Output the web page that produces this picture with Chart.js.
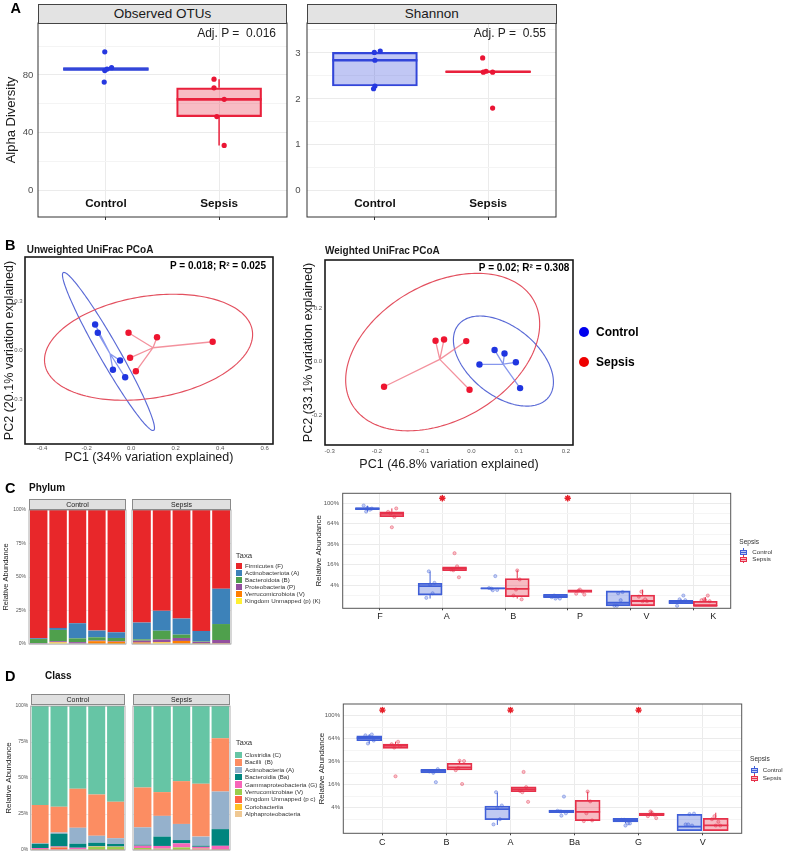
<!DOCTYPE html>
<html>
<head>
<meta charset="utf-8">
<title>Alpha diversity, PCoA and taxonomic composition</title>
<script src="https://cdn.jsdelivr.net/npm/chart.js@4.4.1/dist/chart.umd.min.js"></script>
<style>
  html, body { margin: 0; padding: 0; background: #fff; }
  #wrap { position: relative; width: 787px; height: 853px; overflow: hidden; font-family: "Liberation Sans", Arial, Helvetica, sans-serif; color: #1a1a1a; }
  #wrap canvas { position: absolute; left: 0; top: 0; }
  .t { position: absolute; white-space: pre; line-height: 1; }
  .strip { position: absolute; box-sizing: border-box; display: flex; align-items: center; justify-content: center; white-space: nowrap; line-height: 1; }
  .k { position: absolute; box-sizing: border-box; }
</style>
</head>
<body>
<div id="wrap"></div>
<script>
// ===================== DATA =====================
const groups = ['Control', 'Sepsis'];

// --- A: alpha diversity (per-sample values and box summaries [low, q1, median, q3, high]) ---
const otuControl = [96, 85, 83, 75, 84];
const otuSepsis = [77, 71, 63, 51, 31];
const otuBoxControl = [83, 83, 84, 85, 85];
const otuBoxSepsis = [31, 51, 63, 71, 77];
const otuTicks = [0, 40, 80];
const otuMinor = [20, 60, 100];
const shannonControl = [3.01, 3.04, 2.84, 2.28, 2.22];
const shannonSepsis = [2.89, 2.60, 2.58, 2.58, 1.80];
const shannonBoxControl = [2.22, 2.28, 2.84, 3.01, 3.04];
const shannonBoxSepsis = [2.575, 2.575, 2.59, 2.605, 2.605];
const shannonTicks = [0, 1, 2, 3];
const shannonMinor = [0.5, 1.5, 2.5, 3.5];
const otuJitterControl = [-0.01, 0.05, -0.01, -0.015, 0.01];
const otuJitterSepsis = [-0.045, -0.045, 0.045, -0.02, 0.045];
const shannonJitterControl = [-0.005, 0.047, 0, 0, -0.012];
const shannonJitterSepsis = [-0.048, -0.018, -0.042, 0.04, 0.04];

// --- B: PCoA coordinates ---
const unwControlPC1 = [-0.162, -0.150, -0.050, -0.082, -0.027];
const unwControlPC2 = [0.160, 0.109, -0.062, -0.119, -0.165];
const unwSepsisPC1 = [-0.012, 0.116, 0.366, -0.005, 0.021];
const unwSepsisPC2 = [0.109, 0.082, 0.054, -0.045, -0.128];
const unwCentroidControl = [-0.095, -0.020];
const unwCentroidSepsis = [0.098, 0.017];
// ellipse: centre x, centre y, semi-axis A (x, y), semi-axis B (x, y)
const unwEllipseControl = [-0.102, -0.006, 0.203, -0.486, 0.039, 0.031];
const unwEllipseSepsis = [0.078, 0.020, 0.466, 0.103, 0.036, -0.310];
const unwTicksX = [-0.4, -0.2, 0, 0.2, 0.4, 0.6];
const unwTicksY = [-0.3, 0, 0.3];

const wControlPC1 = [0.049, 0.070, 0.094, 0.017, 0.103];
const wControlPC2 = [0.044, 0.031, -0.002, -0.010, -0.098];
const wSepsisPC1 = [-0.076, -0.058, -0.011, -0.185, -0.004];
const wSepsisPC2 = [0.078, 0.083, 0.077, -0.093, -0.104];
const wCentroidControl = [0.067, -0.009];
const wCentroidSepsis = [-0.067, 0.009];
const wEllipseControl = [0.0677, 0.0026, 0.0956, -0.1345, -0.0455, -0.1002];
const wEllipseSepsis = [-0.0609, 0.0361, 0.1926, 0.1929, 0.0712, -0.2209];
const wTicksX = [-0.3, -0.2, -0.1, 0, 0.1, 0.2];
const wTicksY = [-0.2, 0, 0.2];

// --- C: phylum relative abundance (%), rows = taxa (legend order), columns = samples ---
const samplesControl = ['C1', 'C2', 'C3', 'C4', 'C5'];
const samplesSepsis = ['S1', 'S2', 'S3', 'S4', 'S5'];
const phylumTaxa = ['Firmicutes (F)', 'Actinobacteriota (A)', 'Bacteroidota (B)', 'Proteobacteria (P)', 'Verrucomicrobiota (V)', 'Kingdom Unmapped (p) (K)'];
const phylumCodes = ['F', 'A', 'B', 'P', 'V', 'K'];
const phylumControl = [
  [95.7, 88.0, 84.5, 90.0, 91.25],
  [0.6, 1.5, 11.3, 5.0, 4.25],
  [3.0, 8.4, 2.8, 2.4, 2.3],
  [0.7, 0.8, 1.0, 0.5, 0.5],
  [0, 0.3, 0, 1.8, 1.5],
  [0, 1.0, 0.4, 0.3, 0.2]
];
const phylumSepsis = [
  [84.0, 75.25, 81.0, 90.25, 58.75],
  [12.5, 14.85, 12.0, 7.75, 26.35],
  [1.0, 6.6, 2.5, 0.4, 11.9],
  [1.4, 1.9, 2.2, 1.2, 2.5],
  [0.8, 0.4, 1.9, 0.2, 0.2],
  [0.3, 1.0, 0.4, 0.2, 0.3]
];
const phylumBoxControl = [
  [84.5, 88.2, 90.2, 91.3, 95.3],
  [0.5, 1.1, 3.7, 4.8, 11.1],
  [2.75, 2.75, 2.9, 3.1, 3.1],
  [0.55, 0.62, 0.9, 1.26, 1.3],
  [0, 0, 0.09, 2.1, 2.1],
  [0.04, 0.04, 0.14, 0.29, 0.29]
];
const phylumBoxSepsis = [
  [75.3, 75.5, 80.5, 84.0, 90.3],
  [11.7, 11.7, 13.1, 14.5, 14.5],
  [0.5, 0.8, 2.7, 7.0, 12.0],
  [1.7, 1.7, 2.1, 2.4, 2.4],
  [0, 0, 0.22, 1.1, 2.5],
  [0, 0, 0, 0.19, 0.74]
];
const phylumSignificant = ['A', 'P'];

// --- D: class relative abundance (%) ---
const classTaxa = ['Clostridia (C)', 'Bacilli  (B)', 'Actinobacteria (A)', 'Bacteroidia (Ba)', 'Gammaproteobacteria (G)', 'Verrucomicrobiae (V)', 'Kingdom Unmapped (p c)', 'Coriobacteriia', 'Alphaproteobacteria'];
const classCodes = ['C', 'B', 'A', 'Ba', 'G', 'V'];
const classControl = [
  [68.8, 70.0, 57.5, 61.4, 66.5],
  [26.5, 17.8, 27.0, 28.7, 25.3],
  [0.3, 1.0, 11.2, 4.8, 4.0],
  [3.0, 8.8, 2.8, 2.3, 1.7],
  [0.9, 0.4, 0.9, 0.4, 0.2],
  [0.3, 0.2, 0.3, 2.2, 2.1],
  [0.2, 1.8, 0.3, 0.2, 0.2],
  [0, 0, 0, 0, 0],
  [0, 0, 0, 0, 0]
];
const classSepsis = [
  [56.6, 59.8, 52.2, 54.0, 22.4],
  [27.7, 16.5, 29.7, 36.7, 37.0],
  [12.0, 14.4, 11.2, 6.3, 26.1],
  [0.7, 6.5, 2.3, 0.8, 11.6],
  [1.6, 1.9, 2.8, 1.2, 2.5],
  [1.0, 0.6, 1.6, 0.2, 0.2],
  [0.2, 0.3, 0.2, 0.8, 0.2],
  [0, 0, 0, 0, 0],
  [0.2, 0, 0, 0, 0]
];
const classBoxControl = [
  [57.5, 61.3, 65.0, 68.2, 70.3],
  [25.0, 25.4, 27.0, 28.5, 28.7],
  [0.25, 0.9, 3.5, 4.6, 10.9],
  [2.3, 2.45, 2.9, 3.2, 3.3],
  [0.4, 0.57, 0.87, 1.16, 1.2],
  [0, 0, 0.12, 2.0, 2.1]
];
const classBoxSepsis = [
  [51.3, 51.3, 54.3, 56.9, 59.9],
  [27.9, 27.9, 30.4, 34.3, 37.0],
  [11.5, 11.5, 13.0, 14.6, 14.6],
  [0.7, 0.76, 2.7, 7.0, 11.5],
  [1.6, 1.7, 2.1, 2.37, 2.8],
  [0, 0, 0.22, 1.16, 2.45]
];
const classSignificant = ['C', 'A', 'G'];

const pctTicks = [0, 25, 50, 75, 100];
const sqrtTicks = [4, 16, 36, 64, 100];
const sqrtMinor = [1, 9, 25, 49, 81];
const sigLevel = 110;
const boxJitter = [-0.06, 0.04, -0.02, 0.07, 0.0];

// ===================== STYLES =====================
const phylumColors = ['#E8272A', '#3D82B9', '#4FA04C', '#93509E', '#FF7F00', '#FFF033'];
const classColors = ['#66C5A5', '#FC8D62', '#95B1CC', '#00857E', '#F765B8', '#9ACD4C', '#FF6347', '#FFC125', '#EFC893'];

// ===================== SETUP =====================
const W = 787, H = 853;
const wrap = document.getElementById('wrap');
const FONT = '"Liberation Sans", Arial, Helvetica, sans-serif';
const NARROW = '"Liberation Sans Narrow", "Liberation Sans", Arial, sans-serif';
Chart.defaults.font.family = FONT;

class SqrtScale extends Chart.LinearScale {
  static id = 'sqrt';
  static defaults = {};
  configure() {
    super.configure();
    const f = v => Math.sign(v) * Math.sqrt(Math.abs(v));
    this._s0 = f(this.min);
    this._s1 = f(this.max);
  }
  getPixelForValue(v) {
    const s = Math.sign(v) * Math.sqrt(Math.abs(v));
    return this.getPixelForDecimal((s - this._s0) / (this._s1 - this._s0));
  }
  getValueForPixel(p) {
    const s = this._s0 + this.getDecimalForPixel(p) * (this._s1 - this._s0);
    return s * Math.abs(s);
  }
}
Chart.register(SqrtScale);

function fixSize(n) {
  return s => {
    if (s.isHorizontal()) s.height = n; else s.width = n;
    s.paddingTop = 0; s.paddingBottom = 0; s.paddingLeft = 0; s.paddingRight = 0;
  };
}
function tickAt(vals) { return s => { s.ticks = vals.map(v => ({ value: v })); }; }
function segs(list) {
  const out = [];
  list.forEach(([x1, y1, x2, y2]) => { out.push({ x: x1, y: y1 }, { x: x2, y: y2 }, { x: x2, y: NaN }); });
  return out;
}
function mk(cfg, area, yW, xH, plugins) {
  const c = document.createElement('canvas');
  c.width = W; c.height = H;
  c.style.width = W + 'px'; c.style.height = H + 'px';
  wrap.appendChild(c);
  cfg.options = Object.assign({
    responsive: false, animation: false, devicePixelRatio: 1, events: [],
    layout: { padding: { left: area.l - yW, top: area.t, right: W - area.r, bottom: H - area.b - xH } },
    plugins: { legend: { display: false }, tooltip: { enabled: false } }
  }, cfg.options);
  cfg.plugins = plugins || [];
  return new Chart(c, cfg);
}
function frame(color, width) {
  return {
    id: 'frame',
    afterDatasetsDraw(ch) {
      const { ctx, chartArea: a } = ch;
      ctx.save(); ctx.strokeStyle = color; ctx.lineWidth = width;
      ctx.strokeRect(a.left, a.top, a.right - a.left, a.bottom - a.top);
      ctx.restore();
    }
  };
}
function ellipses(list) {
  return {
    id: 'ellipses',
    beforeDatasetsDraw(ch) {
      const { ctx } = ch; const xs = ch.scales.x, ys = ch.scales.y;
      list.forEach(({ e, color }) => {
        ctx.save(); ctx.beginPath();
        for (let k = 0; k <= 200; k++) {
          const t = k / 200 * 2 * Math.PI;
          const vx = e[0] + e[2] * Math.cos(t) + e[4] * Math.sin(t);
          const vy = e[1] + e[3] * Math.cos(t) + e[5] * Math.sin(t);
          const px = xs.getPixelForValue(vx), py = ys.getPixelForValue(vy);
          if (k) ctx.lineTo(px, py); else ctx.moveTo(px, py);
        }
        ctx.strokeStyle = color; ctx.lineWidth = 1.15; ctx.stroke(); ctx.restore();
      });
    }
  };
}
function boxplot(xs, stats, st) {
  return [
    { type: 'bar', xAxisID: 'x', yAxisID: 'y', data: xs.map((x, i) => ({ x, y: [stats[i][1], stats[i][3]] })),
      backgroundColor: st.fill, borderColor: st.line, borderWidth: st.lw, borderSkipped: false,
      barThickness: st.w, grouped: false, order: 3 },
    { type: 'line', xAxisID: 'x', yAxisID: 'y', data: segs(xs.map((x, i) => [x - st.half, stats[i][2], x + st.half, stats[i][2]])),
      borderColor: st.line, borderWidth: st.mw, pointRadius: 0, spanGaps: false, fill: false, order: 2 },
    { type: 'line', xAxisID: 'x', yAxisID: 'y', data: segs(xs.flatMap((x, i) => [[x, stats[i][0], x, stats[i][1]], [x, stats[i][3], x, stats[i][4]]])),
      borderColor: st.line, borderWidth: st.ww, pointRadius: 0, spanGaps: false, fill: false, order: 2 }
  ];
}
function pts(x0, vals, jit, color, r) {
  return { type: 'scatter', xAxisID: 'x', yAxisID: 'y', data: vals.map((v, i) => ({ x: x0 + jit[i], y: v })),
    backgroundColor: color, borderWidth: 0, pointRadius: r, order: 0 };
}

// HTML text helpers
function T(str, x, y, size, o = {}) {
  const d = document.createElement('div');
  d.className = 't';
  d.textContent = str;
  d.style.fontSize = size + 'px';
  d.style.left = x + 'px';
  d.style.top = (y - 0.5 * size) + 'px';
  if (o.bold) d.style.fontWeight = 'bold';
  d.style.color = o.color || '#1a1a1a';
  if (o.align === 'right') d.style.transform = 'translateX(-100%)';
  else if (o.align === 'center') d.style.transform = 'translateX(-50%)';
  wrap.appendChild(d);
  return d;
}
function strip(str, l, t, w, h, size, bg, border) {
  const d = document.createElement('div');
  d.className = 'strip';
  Object.assign(d.style, { left: l + 'px', top: t + 'px', width: w + 'px', height: h + 'px', fontSize: size + 'px', background: bg, border: border });
  d.textContent = str;
  wrap.appendChild(d);
}
function key(l, t, w, h, css) {
  const d = document.createElement('div');
  d.className = 'k';
  Object.assign(d.style, { left: l + 'px', top: t + 'px', width: w + 'px', height: h + 'px' }, css);
  wrap.appendChild(d);
  return d;
}

// ===================== PANEL A =====================
const aC = { line: '#3346D9', fill: 'rgba(51,70,217,0.30)', dot: '#2638E0' };
const aS = { line: '#E9213C', fill: 'rgba(233,33,60,0.30)', dot: '#EA1534' };
function alphaChart(area, yW, ctrl, seps, jc, js, boxC, boxS, yMin, yMax, ticks, minor, tickPad, title) {
  const half = 42.5 / ((area.r - area.l) / 2.2);
  const yOpts = { type: 'linear', min: yMin, max: yMax, afterBuildTicks: tickAt(ticks), afterFit: fixSize(yW),
    ticks: { font: { size: 9.6 }, color: '#4D4D4D', padding: tickPad },
    grid: { color: '#EBEBEB', drawTicks: false }, border: { display: false } };
  if (title) yOpts.title = { display: true, text: title, font: { size: 13 }, color: '#1a1a1a', padding: 0 };
  return mk({
    type: 'scatter',
    data: { datasets: [
      pts(0, ctrl, jc, aC.dot, 2.6),
      pts(1, seps, js, aS.dot, 2.6),
      ...boxplot([0], [boxC], { line: aC.line, fill: aC.fill, w: 85, half, lw: 1.5, mw: 2.6, ww: 1.5 }),
      ...boxplot([1], [boxS], { line: aS.line, fill: aS.fill, w: 85, half, lw: 1.5, mw: 2.6, ww: 1.5 })
    ] },
    options: { scales: {
      x: { type: 'linear', min: -0.6, max: 1.6, offset: false, afterBuildTicks: tickAt([0, 1]), afterFit: fixSize(4),
        ticks: { callback: v => groups[v], font: { size: 11.7, weight: 'bold' }, color: '#111', mirror: true, padding: 6, maxRotation: 0, autoSkip: false },
        grid: { color: '#EBEBEB', offset: false, drawTicks: true, tickLength: 3, tickColor: '#333' }, border: { display: false } },
      y: yOpts,
      ym: { type: 'linear', axis: 'y', position: 'left', min: yMin, max: yMax, afterBuildTicks: tickAt(minor), afterFit: fixSize(0),
        ticks: { display: false }, grid: { color: '#F4F4F4', drawTicks: false }, border: { display: false } }
    } }
  }, area, yW, 4, [frame('#333', 1)]);
}
alphaChart({ l: 38, t: 23, r: 287, b: 217 }, 34, otuControl, otuSepsis, otuJitterControl, otuJitterSepsis,
  otuBoxControl, otuBoxSepsis, -18.7, 116, otuTicks, otuMinor, 4.7, 'Alpha Diversity');
alphaChart({ l: 307, t: 23, r: 556, b: 217 }, 20, shannonControl, shannonSepsis, shannonJitterControl, shannonJitterSepsis,
  shannonBoxControl, shannonBoxSepsis, -0.57, 3.65, shannonTicks, shannonMinor, 6.3, null);

T('A', 10.5, 8.5, 14.5, { bold: true, color: '#000' });
strip('Observed OTUs', 38, 4, 249, 19.5, 13.5, '#E3E3E3', '1px solid #444');
strip('Shannon', 307, 4, 249.5, 19.5, 13.5, '#E3E3E3', '1px solid #444');
T('Adj. P =  0.016', 276, 33, 12, { align: 'right', color: '#222' });
T('Adj. P =  0.55', 546, 33, 12, { align: 'right', color: '#222' });

// ===================== PANEL B =====================
function pcoaChart(area, yW, xH, cp1, cp2, sp1, sp2, cc, sc, ellC, ellS, xr, yr, tx, ty, xTitle, yTitle, xPad, yPad) {
  return mk({
    type: 'scatter',
    data: { datasets: [
      { type: 'scatter', xAxisID: 'x', yAxisID: 'y', data: cp1.map((x, i) => ({ x, y: cp2[i] })), backgroundColor: '#1F35E0', borderWidth: 0, pointRadius: 3.2, order: 0 },
      { type: 'scatter', xAxisID: 'x', yAxisID: 'y', data: sp1.map((x, i) => ({ x, y: sp2[i] })), backgroundColor: '#EE1530', borderWidth: 0, pointRadius: 3.2, order: 0 },
      { type: 'line', xAxisID: 'x', yAxisID: 'y', data: segs(cp1.map((x, i) => [cc[0], cc[1], x, cp2[i]])), borderColor: 'rgba(105,125,232,0.8)', borderWidth: 1.3, pointRadius: 0, spanGaps: false, fill: false, order: 1 },
      { type: 'line', xAxisID: 'x', yAxisID: 'y', data: segs(sp1.map((x, i) => [sc[0], sc[1], x, sp2[i]])), borderColor: 'rgba(240,118,132,0.8)', borderWidth: 1.3, pointRadius: 0, spanGaps: false, fill: false, order: 1 }
    ] },
    options: { scales: {
      x: { type: 'linear', min: xr[0], max: xr[1], afterBuildTicks: tickAt(tx), afterFit: fixSize(xH),
        ticks: { font: { size: 6, family: NARROW }, color: '#555', padding: xPad, callback: v => v.toFixed(1) },
        grid: { display: false, drawTicks: false }, border: { display: false },
        title: { display: true, text: xTitle, font: { size: 12.5 }, color: '#1a1a1a', padding: 0 } },
      y: { type: 'linear', min: yr[0], max: yr[1], afterBuildTicks: tickAt(ty), afterFit: fixSize(yW),
        ticks: { font: { size: 6, family: NARROW }, color: '#555', padding: yPad, callback: v => v.toFixed(1) },
        grid: { display: false, drawTicks: false }, border: { display: false },
        title: { display: true, text: yTitle, font: { size: 12.5 }, color: '#1a1a1a', padding: 0 } }
    } }
  }, area, yW, xH, [frame('#1a1a1a', 1.6), ellipses([{ e: ellC, color: '#5A6AD6' }, { e: ellS, color: '#E3505F' }])]);
}
pcoaChart({ l: 25, t: 257, r: 273, b: 444 }, 23.3, 21, unwControlPC1, unwControlPC2, unwSepsisPC1, unwSepsisPC2,
  unwCentroidControl, unwCentroidSepsis, unwEllipseControl, unwEllipseSepsis, [-0.477, 0.637], [-0.576, 0.576],
  unwTicksX, unwTicksY, 'PC1 (34% variation explained)', 'PC2 (20.1% variation explained)', 1, 2.3);
pcoaChart({ l: 325, t: 260, r: 573, b: 445 }, 23.5, 27.5, wControlPC1, wControlPC2, wSepsisPC1, wSepsisPC2,
  wCentroidControl, wCentroidSepsis, wEllipseControl, wEllipseSepsis, [-0.310, 0.215], [-0.310, 0.379],
  wTicksX, wTicksY, 'PC1 (46.8% variation explained)', 'PC2 (33.1% variation explained)', 3.1, 3);

T('B', 5, 245, 14.5, { bold: true, color: '#000' });
T('Unweighted UniFrac PCoA', 26.7, 250, 10, { bold: true });
T('Weighted UniFrac PCoA', 325, 251, 10, { bold: true });
T('P = 0.018; R² = 0.025', 266, 265.5, 10, { bold: true, align: 'right', color: '#000' });
T('P = 0.02; R² = 0.308', 569.3, 268.3, 10, { bold: true, align: 'right', color: '#000' });
key(579, 327.3, 10, 10, { borderRadius: '50%', background: '#0000EE' });
key(579, 357, 10, 10, { borderRadius: '50%', background: '#EE0000' });
T('Control', 596, 332.3, 12, { bold: true, color: '#000' });
T('Sepsis', 596, 362, 12, { bold: true, color: '#000' });

// ===================== STACKED BARS (C, D left) =====================
function stackChart(area, yW, samples, values, colors, showY, titleSize, tickPad) {
  const datasets = values.map((row, i) => ({ data: row, backgroundColor: colors[i], borderWidth: 0, barPercentage: 0.9, categoryPercentage: 1.0 })).reverse();
  return mk({
    type: 'bar',
    data: { labels: samples, datasets },
    options: { scales: {
      x: { display: false, stacked: true },
      y: { stacked: true, min: 0, max: 100, afterBuildTicks: tickAt(pctTicks), afterFit: fixSize(showY ? yW : 0),
        ticks: { display: showY, font: { size: 5 }, color: '#555', padding: tickPad, callback: v => v + '%' },
        grid: { color: '#EBEBEB', drawTicks: false }, border: { display: false },
        title: { display: showY, text: 'Relative Abundance', font: { size: titleSize }, color: '#222', padding: 0 } }
    } }
  }, area, showY ? yW : 0, 0, [frame('#9A9A9A', 0.8)]);
}
stackChart({ l: 29, t: 510, r: 126, b: 644 }, 27.7, samplesControl, phylumControl, phylumColors, true, 7.5, 3);
stackChart({ l: 132, t: 510, r: 231, b: 644 }, 0, samplesSepsis, phylumSepsis, phylumColors, false, 7.5, 3);
stackChart({ l: 30.7, t: 706, r: 125, b: 850 }, 27.2, samplesControl, classControl, classColors, true, 8, 2.4);
stackChart({ l: 133, t: 706, r: 230, b: 850 }, 0, samplesSepsis, classSepsis, classColors, false, 8, 2.4);

// ===================== BOX PLOTS (C, D right) =====================
const bC = { line: '#3F5FD8', fill: 'rgba(63,95,216,0.33)', pt: 'rgba(63,95,216,0.30)', ptb: 'rgba(63,95,216,0.55)' };
const bS = { line: '#E6304A', fill: 'rgba(230,48,74,0.33)', pt: 'rgba(230,48,74,0.30)', ptb: 'rgba(230,48,74,0.55)' };
function abundanceChart(area, yW, codes, ctrlVals, sepVals, ctrlStats, sepStats, sig, xr, lr, dodge, w, yr, tickPad, xPad) {
  const ppu = (area.r - area.l) / (xr[1] - xr[0]);
  const half = w / 2 / ppu;
  const idx = codes.map((_, i) => i);
  const cx = idx.map(i => i - dodge), sx = idx.map(i => i + dodge);
  const ds = [
    { type: 'scatter', xAxisID: 'x', yAxisID: 'y', data: sig.map(c => ({ x: codes.indexOf(c), y: sigLevel })),
      pointStyle: 'star', pointRadius: 3.2, borderColor: '#E8202A', borderWidth: 1.4, backgroundColor: '#E8202A', order: 0 },
    { type: 'scatter', xAxisID: 'x', yAxisID: 'y', data: idx.flatMap(i => ctrlVals[i].map((v, k) => ({ x: cx[i] + boxJitter[k], y: v }))),
      pointRadius: 1.6, backgroundColor: bC.pt, borderColor: bC.ptb, borderWidth: 0.7, order: 0 },
    { type: 'scatter', xAxisID: 'x', yAxisID: 'y', data: idx.flatMap(i => sepVals[i].map((v, k) => ({ x: sx[i] + boxJitter[k], y: v }))),
      pointRadius: 1.6, backgroundColor: bS.pt, borderColor: bS.ptb, borderWidth: 0.7, order: 0 },
    ...boxplot(cx, ctrlStats, { line: bC.line, fill: bC.fill, w, half, lw: 1.1, mw: 1.8, ww: 1.0 }),
    ...boxplot(sx, sepStats, { line: bS.line, fill: bS.fill, w, half, lw: 1.1, mw: 1.8, ww: 1.0 })
  ];
  return mk({
    type: 'scatter',
    data: { datasets: ds },
    options: { scales: {
      x: { type: 'linear', min: xr[0], max: xr[1], offset: false, afterBuildTicks: tickAt(idx), afterFit: fixSize(0),
        ticks: { display: false }, grid: { color: '#EBEBEB', offset: false, drawTicks: true, tickLength: 2, tickColor: '#444' }, border: { display: false } },
      xl: { type: 'linear', axis: 'x', position: 'bottom', min: lr[0], max: lr[1], afterBuildTicks: tickAt(idx), afterFit: fixSize(15),
        ticks: { callback: v => codes[v], font: { size: 9 }, color: '#222', padding: xPad, maxRotation: 0, autoSkip: false },
        grid: { display: false, drawTicks: false }, border: { display: false } },
      y: { type: 'sqrt', min: yr[0], max: yr[1], afterBuildTicks: tickAt(sqrtTicks), afterFit: fixSize(yW),
        ticks: { font: { size: 6 }, color: '#555', padding: tickPad, callback: v => v + '%' },
        grid: { color: '#EBEBEB', drawTicks: false }, border: { display: false },
        title: { display: true, text: 'Relative Abundance', font: { size: 8 }, color: '#222', padding: 0 } },
      ym: { type: 'sqrt', axis: 'y', position: 'left', min: yr[0], max: yr[1], afterBuildTicks: tickAt(sqrtMinor), afterFit: fixSize(0),
        ticks: { display: false }, grid: { color: '#F5F5F5', drawTicks: false }, border: { display: false } }
    } }
  }, area, yW, 15, [frame('#555', 1)]);
}
abundanceChart({ l: 342.7, t: 493.3, r: 730.7, b: 608.3 }, 29.2, phylumCodes, phylumControl, phylumSepsis,
  phylumBoxControl, phylumBoxSepsis, phylumSignificant, [-0.589, 5.60], [-0.560, 5.263], 0.195, 24, [-0.0595, 120.5], 3.7, 3);
abundanceChart({ l: 343.3, t: 704, r: 741.7, b: 833.3 }, 26.3, classCodes, classControl.slice(0, 6), classSepsis.slice(0, 6),
  classBoxControl, classBoxSepsis, classSignificant, [-0.61, 5.61], [-0.61, 5.61], 0.205, 25, [-0.051, 121.4], 3.3, 4);

// ===================== TEXT / LEGENDS C, D =====================
T('C', 5, 488, 14.5, { bold: true, color: '#000' });
T('Phylum', 29, 488.3, 10, { bold: true, color: '#111' });
strip('Control', 29, 499, 97, 11, 7, '#E0E0E0', '0.8px solid #8A8A8A');
strip('Sepsis', 132, 499, 99, 11, 7, '#E0E0E0', '0.8px solid #8A8A8A');
T('Taxa', 235.7, 555.7, 7.8, { color: '#333' });
phylumTaxa.forEach((name, i) => {
  const y = 565.7 + i * 7.0;
  key(236, y - 3, 6, 6, { background: phylumColors[i] });
  T(name, 245, y, 6.2, { color: '#333' });
});

T('D', 5, 676, 14.5, { bold: true, color: '#000' });
T('Class', 45, 676, 10, { bold: true, color: '#111' });
strip('Control', 30.7, 694.3, 94.3, 11, 7, '#E0E0E0', '0.8px solid #8A8A8A');
strip('Sepsis', 133, 694.3, 97, 11, 7, '#E0E0E0', '0.8px solid #8A8A8A');
T('Taxa', 235.7, 743, 7.8, { color: '#333' });
classTaxa.forEach((name, i) => {
  const y = 755 + i * 7.41;
  key(235, y - 3.2, 6.5, 6.4, { background: classColors[i] });
  T(name, 245, y, 6.2, { color: '#333' });
});

function boxLegend(x, yTitle, y1, y2, xl) {
  T('Sepsis', x, yTitle, 6.6, { color: '#333' });
  [[y1, bC, 'Control'], [y2, bS, 'Sepsis']].forEach(([y, c, lab]) => {
    key(x + 0.5, y - 2.5, 7, 5, { border: '1px solid ' + c.line, background: `linear-gradient(to bottom, ${c.fill} 0 40%, ${c.line} 40% 60%, ${c.fill} 60%)` });
    key(x + 3.5, y - 4, 1, 1.5, { background: c.line });
    key(x + 3.5, y + 2.5, 1, 1.5, { background: c.line });
    T(lab, xl, y, 6.2, { color: '#333' });
  });
}
boxLegend(739.3, 542, 552, 559.2, 752.3);
boxLegend(750, 759.3, 770.3, 778.3, 762.7);
</script>
</body>
</html>
